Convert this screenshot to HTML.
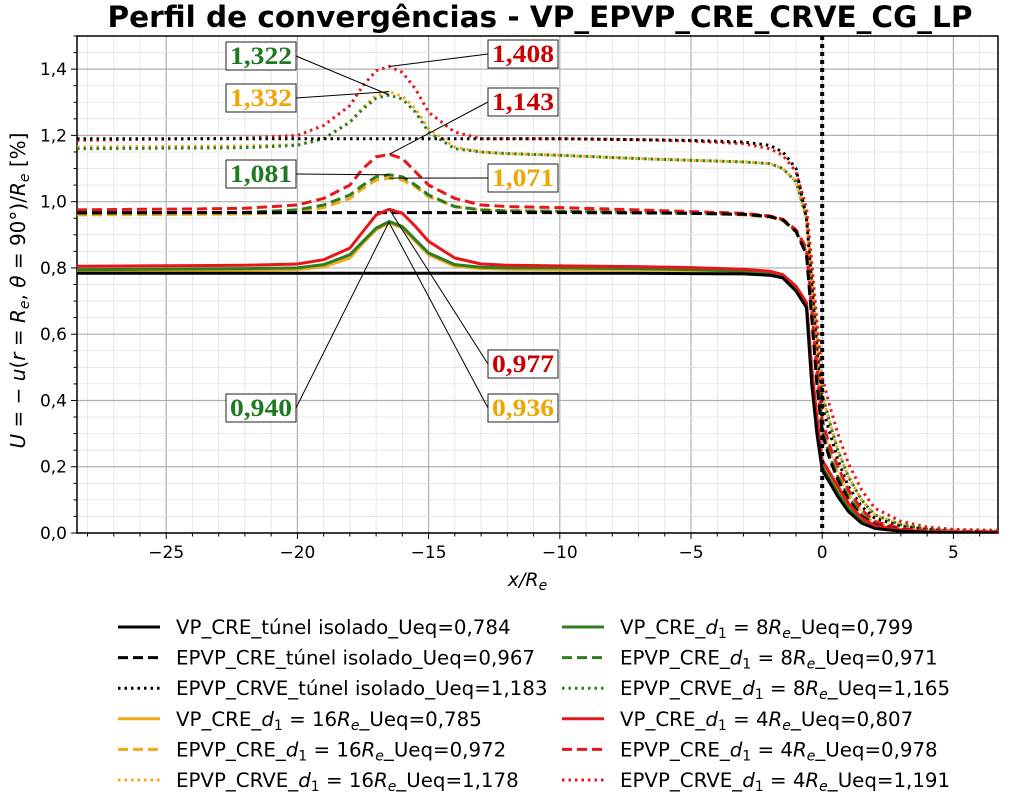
<!DOCTYPE html>
<html><head><meta charset="utf-8"><style>
body{margin:0;background:#fff;}
svg{display:block;font-family:"DejaVu Sans","Liberation Sans",sans-serif;}
</style></head><body>
<svg id="chart" width="1010" height="806" viewBox="0 0 1010 806"></svg>
<script>
const xs=[-28.4,-26,-24,-22,-20,-19,-18,-17.5,-17,-16.5,-16,-15.5,-15,-14,-13,-12,-10,-7,-5,-3,-2,-1.5,-1,-0.6,-0.4,-0.2,0,0.3,0.6,1,1.5,2,3,4,5,6.7];
const vpTunel=[0.784,0.784,0.784,0.784,0.784,0.784,0.784,0.784,0.784,0.784,0.784,0.784,0.784,0.784,0.784,0.784,0.784,0.784,0.783,0.782,0.778,0.77,0.73,0.68,0.45,0.3,0.19,0.15,0.11,0.065,0.03,0.014,0.005,0.002,0.001,0.0];
const vp8=[0.795,0.796,0.797,0.798,0.800,0.810,0.840,0.880,0.920,0.940,0.925,0.885,0.845,0.810,0.802,0.800,0.800,0.798,0.795,0.790,0.785,0.775,0.74,0.69,0.47,0.32,0.2,0.16,0.12,0.075,0.035,0.017,0.006,0.003,0.001,0.0];
const vp16=[0.790,0.791,0.792,0.793,0.795,0.803,0.830,0.875,0.915,0.936,0.92,0.88,0.84,0.805,0.798,0.796,0.795,0.794,0.792,0.788,0.783,0.773,0.74,0.69,0.48,0.33,0.21,0.17,0.13,0.08,0.04,0.02,0.008,0.004,0.002,0.001];
const vp4=[0.805,0.806,0.807,0.808,0.812,0.825,0.860,0.910,0.960,0.977,0.965,0.925,0.88,0.83,0.812,0.808,0.806,0.804,0.801,0.796,0.79,0.78,0.745,0.695,0.5,0.35,0.22,0.18,0.14,0.09,0.045,0.022,0.009,0.004,0.002,0.001];
const creTunel=[0.967,0.967,0.967,0.967,0.967,0.967,0.967,0.967,0.967,0.967,0.967,0.967,0.967,0.967,0.967,0.967,0.967,0.966,0.965,0.962,0.955,0.945,0.91,0.84,0.65,0.45,0.3,0.22,0.16,0.1,0.05,0.025,0.01,0.004,0.002,0.001];
const cre8=[0.965,0.966,0.967,0.968,0.975,0.99,1.02,1.05,1.075,1.081,1.075,1.05,1.02,0.985,0.975,0.972,0.971,0.968,0.965,0.962,0.955,0.945,0.91,0.85,0.66,0.47,0.31,0.23,0.17,0.11,0.055,0.028,0.011,0.005,0.003,0.002];
const cre16=[0.960,0.961,0.962,0.963,0.968,0.982,1.01,1.04,1.065,1.071,1.065,1.045,1.015,0.985,0.975,0.972,0.971,0.968,0.965,0.960,0.953,0.943,0.91,0.85,0.67,0.48,0.32,0.24,0.18,0.115,0.06,0.03,0.012,0.006,0.004,0.003];
const cre4=[0.975,0.977,0.978,0.98,0.99,1.01,1.05,1.10,1.135,1.143,1.13,1.09,1.05,1.01,0.99,0.985,0.982,0.975,0.97,0.965,0.957,0.947,0.915,0.86,0.68,0.5,0.34,0.26,0.2,0.13,0.07,0.035,0.014,0.007,0.005,0.004];
const crveTunel=[1.19,1.19,1.19,1.19,1.19,1.19,1.19,1.19,1.19,1.19,1.19,1.19,1.19,1.19,1.19,1.19,1.19,1.187,1.185,1.18,1.17,1.15,1.1,0.95,0.75,0.55,0.38,0.3,0.22,0.14,0.08,0.045,0.02,0.01,0.005,0.003];
const crve8=[1.160,1.161,1.162,1.163,1.170,1.19,1.24,1.28,1.312,1.322,1.31,1.27,1.21,1.16,1.15,1.145,1.14,1.13,1.125,1.12,1.115,1.10,1.06,0.95,0.78,0.6,0.42,0.33,0.25,0.17,0.1,0.055,0.025,0.012,0.007,0.005];
const crve16=[1.165,1.166,1.167,1.168,1.172,1.19,1.24,1.285,1.32,1.332,1.318,1.28,1.22,1.165,1.15,1.145,1.14,1.13,1.125,1.12,1.115,1.10,1.06,0.95,0.78,0.6,0.42,0.33,0.25,0.17,0.1,0.055,0.025,0.012,0.007,0.005];
const crve4=[1.185,1.188,1.19,1.192,1.2,1.23,1.29,1.35,1.395,1.408,1.39,1.34,1.27,1.21,1.19,1.19,1.19,1.187,1.183,1.175,1.16,1.14,1.09,0.98,0.82,0.64,0.47,0.38,0.3,0.21,0.13,0.075,0.035,0.018,0.011,0.008];
const xTicks=[-25,-20,-15,-10,-5,0,5];
const xTickLabels=["−25","−20","−15","−10","−5","0","5"];
const yTicks=[0,0.2,0.4,0.6,0.8,1.0,1.2,1.4];
const yTickLabels=["0,0","0,2","0,4","0,6","0,8","1,0","1,2","1,4"];
const annotations=[
 {t:"1,322",v:1.322,c:"#1e7a1e",bx:226,by:42,side:"r"},
 {t:"1,332",v:1.332,c:"#f0a500",bx:226,by:84,side:"r"},
 {t:"1,081",v:1.081,c:"#1e7a1e",bx:226,by:160,side:"r"},
 {t:"0,940",v:0.940,c:"#1e7a1e",bx:226,by:394,side:"r"},
 {t:"1,408",v:1.408,c:"#cc0000",bx:488,by:40,side:"l"},
 {t:"1,143",v:1.143,c:"#cc0000",bx:488,by:88,side:"l"},
 {t:"1,071",v:1.071,c:"#f0a500",bx:488,by:164,side:"l"},
 {t:"0,977",v:0.977,c:"#cc0000",bx:488,by:350,side:"l"},
 {t:"0,936",v:0.936,c:"#f0a500",bx:488,by:394,side:"l"}];
const peakX=-16.5;

const L=77,R=998,T=36,B=533,X0=-28.4,X1=6.7,Y0=0,Y1=1.5;
const sx=x=>L+(x-X0)/(X1-X0)*(R-L);
const sy=y=>B-(y-Y0)/(Y1-Y0)*(B-T);
const svg=document.getElementById('chart');
const NS='http://www.w3.org/2000/svg';
function el(tag,attrs,parent){const e=document.createElementNS(NS,tag);for(const k in attrs)e.setAttribute(k,attrs[k]);(parent||svg).appendChild(e);return e;}
const G='#2e7d1f',O='#f2a91a',Rd='#e8161b',K='#000';
let t=el('text',{x:540,y:27,'text-anchor':'middle','font-size':29.5,'font-weight':'bold'});t.textContent='Perfil de convergências - VP_EPVP_CRE_CRVE_CG_LP';

const grid=el('g',{});
for(let x=-28;x<=6;x++){el('line',{x1:sx(x),x2:sx(x),y1:T,y2:B,stroke:x%5===0?'#b0b0b0':'#e2e2e2','stroke-width':x%5===0?1.2:0.8},grid);}
for(let i=0;i<=30;i++){const y=i*0.05;el('line',{x1:L,x2:R,y1:sy(y),y2:sy(y),stroke:i%4===0?'#b0b0b0':'#e2e2e2','stroke-width':i%4===0?1.2:0.8},grid);}
const axg=el('g',{});
for(let x=-28;x<=6;x++){el('line',{x1:sx(x),x2:sx(x),y1:B,y2:B+(x%5===0?6:3.5),stroke:'#000','stroke-width':1},axg);}
for(let i=0;i<=30;i++){const y=i*0.05;el('line',{x1:L,x2:L-(i%4===0?6:3.5),y1:sy(y),y2:sy(y),stroke:'#000','stroke-width':1},axg);}
xTicks.forEach((v,i)=>{const e=el('text',{x:sx(v),y:B+25,'text-anchor':'middle','font-size':17},axg);e.textContent=xTickLabels[i];});
yTicks.forEach((v,i)=>{const e=el('text',{x:L-10,y:sy(v)+6,'text-anchor':'end','font-size':17},axg);e.textContent=yTickLabels[i];});
let xl=el('text',{x:(L+R)/2-10,y:586,'text-anchor':'middle','font-size':19,'font-style':'italic'});xl.innerHTML='x/R<tspan font-size="14" dy="4">e</tspan>';

let yl=el('text',{x:0,y:0,'text-anchor':'middle','font-size':20,transform:`translate(25,${(T+B)/2+6}) rotate(-90)`});
yl.innerHTML='<tspan font-style="italic">U</tspan> = − <tspan font-style="italic">u</tspan>(<tspan font-style="italic">r</tspan> = <tspan font-style="italic">R</tspan><tspan font-size="14" dy="4" font-style="italic">e</tspan><tspan dy="-4">, </tspan><tspan font-style="italic">θ</tspan> = 90°)/<tspan font-style="italic">R</tspan><tspan font-size="14" dy="4" font-style="italic">e</tspan><tspan dy="-4"> [%]</tspan>';

const clip=el('clipPath',{id:'cp'});el('rect',{x:L,y:T,width:R-L,height:B-T},clip);
const sg=el('g',{'clip-path':'url(#cp)'});
const dashes={solid:'',dash:'10,5',dot:'2.5,4'};
const series=[
 {d:crve16,c:O,s:'dot',n:'epvp-crve-16re'},{d:crve8,c:G,s:'dot',n:'epvp-crve-8re'},{d:crve4,c:Rd,s:'dot',n:'epvp-crve-4re'},{d:crveTunel,c:K,s:'dot',n:'epvp-crve-tunel'},
 {d:cre16,c:O,s:'dash',n:'epvp-cre-16re'},{d:cre8,c:G,s:'dash',n:'epvp-cre-8re'},{d:cre4,c:Rd,s:'dash',n:'epvp-cre-4re'},{d:creTunel,c:K,s:'dash',n:'epvp-cre-tunel'},
 {d:vp16,c:O,s:'solid',n:'vp-cre-16re'},{d:vp8,c:G,s:'solid',n:'vp-cre-8re'},{d:vp4,c:Rd,s:'solid',n:'vp-cre-4re'},{d:vpTunel,c:K,s:'solid',n:'vp-cre-tunel'}];
series.forEach(s=>{const p=el('path',{d:xs.map((x,i)=>(i?'L':'M')+sx(x).toFixed(1)+','+sy(s.d[i]).toFixed(1)).join(''),fill:'none',stroke:s.c,'stroke-width':3,'stroke-dasharray':dashes[s.s],'stroke-linejoin':'round'},sg);
});
let vl=el('line',{x1:sx(0),x2:sx(0),y1:T,y2:B,stroke:'#000','stroke-width':4,'stroke-dasharray':'4,4'});

el('rect',{x:L,y:T,width:R-L,height:B-T,fill:'none',stroke:'#000','stroke-width':1.5},axg);
annotations.forEach(a=>{const w=70,h=28;const g=el('g',{});
 const ax=a.side==='r'?a.bx+w:a.bx;el('line',{x1:ax,y1:a.by+h/2,x2:sx(peakX),y2:sy(a.v),stroke:'#000','stroke-width':1},g);
 el('rect',{x:a.bx,y:a.by,width:w,height:h,fill:'#fff',stroke:'#222','stroke-width':1},g);
 const e=el('text',{x:a.bx+w/2,y:a.by+22,'text-anchor':'middle','font-size':25,'font-weight':'bold','font-family':'"Liberation Serif",serif',fill:a.c,textLength:62,lengthAdjust:'spacingAndGlyphs'},g);e.textContent=a.t;});
const sub='<tspan font-size="14" dy="4">1</tspan><tspan dy="-4">';
const subE='</tspan><tspan font-style="italic">R</tspan><tspan font-size="14" dy="4" font-style="italic">e</tspan><tspan dy="-4">';
const leg=[
 ['VP_CRE_túnel isolado_Ueq=0,784',K,'solid'],['EPVP_CRE_túnel isolado_Ueq=0,967',K,'dash'],['EPVP_CRVE_túnel isolado_Ueq=1,183',K,'dot'],
 ['VP_CRE_<tspan font-style="italic">d</tspan>'+sub+' = 16'+subE+'_Ueq=0,785</tspan>',O,'solid'],
 ['EPVP_CRE_<tspan font-style="italic">d</tspan>'+sub+' = 16'+subE+'_Ueq=0,972</tspan>',O,'dash'],
 ['EPVP_CRVE_<tspan font-style="italic">d</tspan>'+sub+' = 16'+subE+'_Ueq=1,178</tspan>',O,'dot'],
 ['VP_CRE_<tspan font-style="italic">d</tspan>'+sub+' = 8'+subE+'_Ueq=0,799</tspan>',G,'solid'],
 ['EPVP_CRE_<tspan font-style="italic">d</tspan>'+sub+' = 8'+subE+'_Ueq=0,971</tspan>',G,'dash'],
 ['EPVP_CRVE_<tspan font-style="italic">d</tspan>'+sub+' = 8'+subE+'_Ueq=1,165</tspan>',G,'dot'],
 ['VP_CRE_<tspan font-style="italic">d</tspan>'+sub+' = 4'+subE+'_Ueq=0,807</tspan>',Rd,'solid'],
 ['EPVP_CRE_<tspan font-style="italic">d</tspan>'+sub+' = 4'+subE+'_Ueq=0,978</tspan>',Rd,'dash'],
 ['EPVP_CRVE_<tspan font-style="italic">d</tspan>'+sub+' = 4'+subE+'_Ueq=1,191</tspan>',Rd,'dot']];
const lg=el('g',{});
leg.forEach((e,i)=>{const col=i<6?0:1,row=i%6;const lx=col?562:118,ty=627+row*30.6;
 const g=el('g',{},lg);
 el('line',{x1:lx,x2:lx+42,y1:ty,y2:ty,stroke:e[1],'stroke-width':3,'stroke-dasharray':dashes[e[2]]},g);
 const tx=el('text',{x:lx+58,y:ty+7,'font-size':19.8},g);tx.innerHTML=e[0];});
</script>
</body></html>
